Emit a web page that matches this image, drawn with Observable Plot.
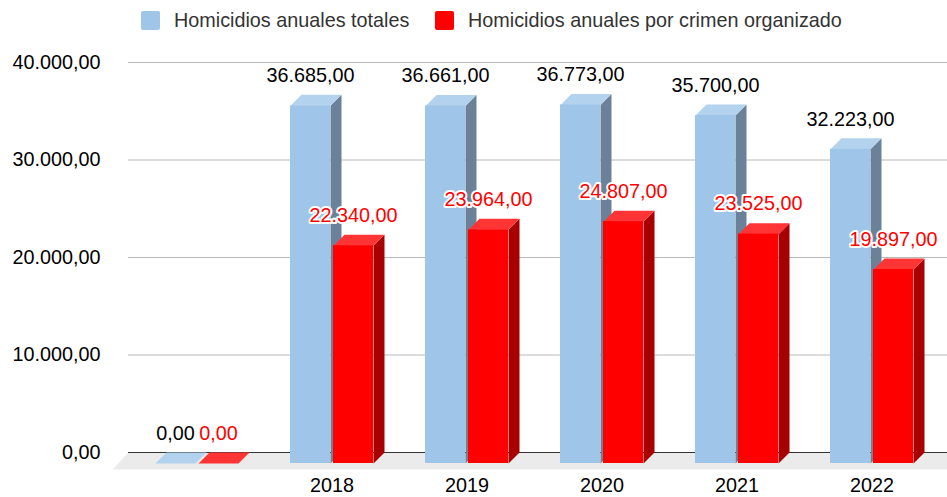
<!DOCTYPE html>
<html>
<head>
<meta charset="utf-8">
<script src="https://cdn.jsdelivr.net/npm/d3@7"></script>
<script src="https://cdn.jsdelivr.net/npm/@observablehq/plot@0.6"></script>
<style>
  html, body { margin: 0; padding: 0; background: #fff; overflow: hidden; }
  body { width: 947px; height: 497px; font-family: "Liberation Sans", Arial, sans-serif; }
  #legend { position: relative; height: 34px; width: 947px; font-size: 19.8px; color: #333; }
  .sw { position: absolute; top: 11px; width: 19px; height: 19px; border-radius: 2px; }
  .lt { position: absolute; top: 8px; line-height: 24px; white-space: nowrap; }
</style>
</head>
<body>
<div id="legend"></div>
<div id="chart"></div>
<script>
// ---- data ----
const categories = ["", "2018", "2019", "2020", "2021", "2022"];
const totales = [0, 36685, 36661, 36773, 35700, 32223];
const organizado = [0, 22340, 23964, 24807, 23525, 19897];
const seriesNames = ["Homicidios anuales totales", "Homicidios anuales por crimen organizado"];
const yTicks = [0, 10000, 20000, 30000, 40000];

// ---- styling / layout ----
const W = 947, H = 463;
const marginTop = 28, marginBottom = 45, marginLeft = 128;
const yMax = 40000;
const pxPerCat = 135;
const xRange = [207.5, 207.5 + pxPerCat * (categories.length - 1)];
const pxPerUnitY = (H - marginTop - marginBottom) / yMax;
const depthPx = 11;
const dxU = depthPx / pxPerCat;
const dyU = depthPx / pxPerUnitY;
const colors = [
  {front: "#9fc5e8", top: "#b3d2ee", side: "#6a8199", label: "#000", halo: "none"},
  {front: "#ff0000", top: "#ff3535", side: "#a80000", label: "#ff0000", halo: "white"}
];
const barOffsets = [[-41.5, -1.5], [1.5, 41.5]]; // px relative to front group center

const fmt = d3.formatLocale({decimal: ",", thousands: ".", grouping: [3], currency: ["", ""]}).format(",.2f");

// legend
const legend = document.getElementById("legend");
const legendX = [[141, 174], [435, 468]];
seriesNames.forEach((name, s) => {
  const sw = document.createElement("div");
  sw.className = "sw"; sw.style.left = legendX[s][0] + "px"; sw.style.background = colors[s].front;
  const t = document.createElement("div");
  t.className = "lt"; t.style.left = legendX[s][1] + "px"; t.textContent = name;
  legend.append(sw, t);
});

// build geometry in data units
const values = [totales, organizado];
const bars = [];
values.forEach((vals, s) => {
  vals.forEach((v, i) => {
    const fx0 = i - dxU + barOffsets[s][0] / pxPerCat;
    const fx1 = i - dxU + barOffsets[s][1] / pxPerCat;
    bars.push({s, i, v, fx0, fx1, cx: (fx0 + fx1) / 2});
  });
});
function poly(b, kind) {
  const {fx0, fx1, v} = b;
  let pts;
  if (kind === "top") pts = [[fx0, v - dyU], [fx1, v - dyU], [fx1 + dxU, v], [fx0 + dxU, v]];
  else pts = [[fx1, -dyU], [fx1, v - dyU], [fx1 + dxU, v], [fx1 + dxU, 0]];
  return pts.map(([x, y]) => ({x, y, id: `${b.s}-${b.i}-${kind}`}));
}

// floor
const floorDepthPx = 17;
const toXU = px => (px - xRange[0]) / pxPerCat;
const floor = [
  {x: toXU(marginLeft), y: 0},
  {x: toXU(W + 20), y: 0},
  {x: toXU(W + 20), y: -floorDepthPx / pxPerUnitY},
  {x: toXU(marginLeft - 16), y: -floorDepthPx / pxPerUnitY}
];

const marks = [
  Plot.ruleY(yTicks.filter(d => d > 0), {stroke: "#b8b8b8", strokeWidth: 1}),
  Plot.line(floor, {x: "x", y: "y", fill: "#ebebeb", stroke: "none"}),
  Plot.ruleY([0], {stroke: "#333", strokeWidth: 1}),
  Plot.text(yTicks, {y: d => d, text: d => fmt(d), frameAnchor: "left", textAnchor: "end", dx: -28, fill: "#000"})
];
[0, 1].forEach(s => {
  const bs = bars.filter(b => b.s === s);
  marks.push(
    Plot.line(bs.filter(b => b.v > 0).flatMap(b => poly(b, "side")), {x: "x", y: "y", z: "id", fill: colors[s].side, stroke: "none"}),
    Plot.line(bs.flatMap(b => poly(b, "top")), {x: "x", y: "y", z: "id", fill: colors[s].top, stroke: "none"}),
    Plot.rect(bs.filter(b => b.v > 0), {x1: "fx0", x2: "fx1", y1: -dyU, y2: b => b.v - dyU, fill: colors[s].front})
  );
});
[0, 1].forEach(s => {
  const bs = bars.filter(b => b.s === s);
  marks.push(
    Plot.text(bs, {x: "cx", y: "v", text: b => fmt(b.v), dy: -19, fill: colors[s].label,
      stroke: colors[s].halo, strokeWidth: s === 1 ? 4 : 0})
  );
});
marks.push(
  Plot.text(categories.map((c, i) => ({c, i})).filter(d => d.c !== ""), {x: "i", y: 0, text: "c", dy: 33, dx: -11, fill: "#000"})
);

const chart = Plot.plot({
  width: W,
  height: H,
  marginTop, marginBottom, marginLeft, marginRight: 0,
  style: {fontFamily: '"Liberation Sans", Arial, sans-serif', fontSize: "19.8px", background: "#fff"},
  x: {type: "linear", domain: [0, categories.length - 1], range: xRange, axis: null},
  y: {type: "linear", domain: [0, yMax], axis: null},
  marks
});
document.getElementById("chart").append(chart);
</script>
</body>
</html>
